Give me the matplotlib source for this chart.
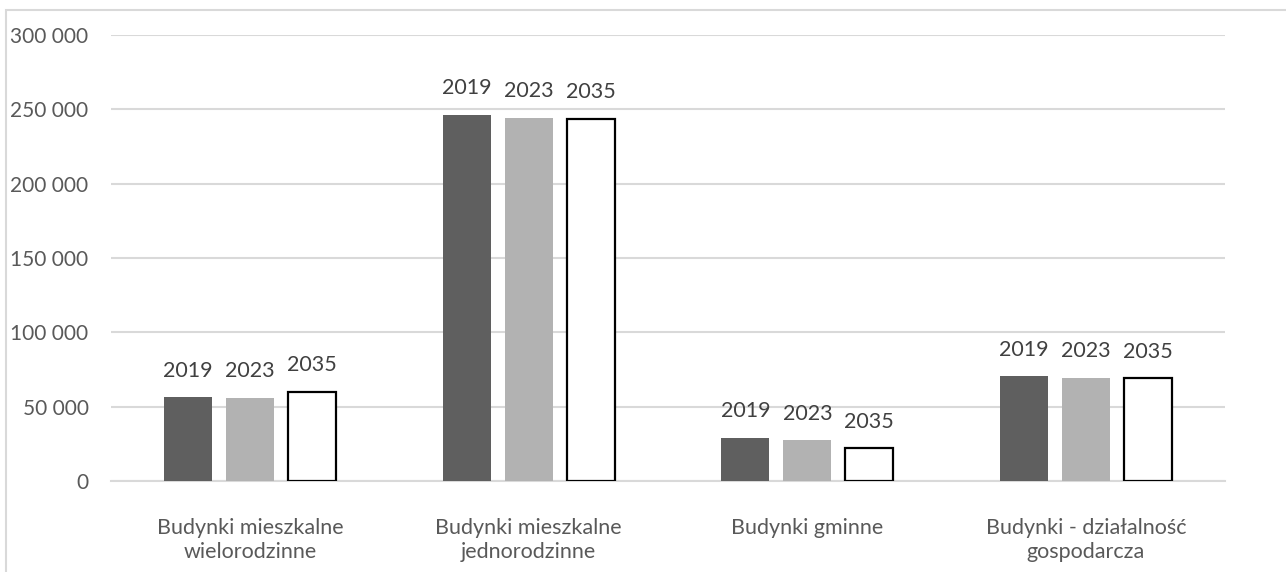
import numpy as np
import matplotlib.pyplot as plt
from matplotlib.patches import Rectangle

# Data
categories = ['Budynki mieszkalne\nwielorodzinne', 'Budynki mieszkalne\njednorodzinne',
              'Budynki gminne', 'Budynki - działalność\ngospodarcza']
years = ['2019', '2023', '2035']
values_2019 = [56500, 246300, 29100, 70500]
values_2023 = [56000, 244300, 27600, 69600]
values_2035 = [60000, 243600, 22200, 69100]
yticks = [0, 50000, 100000, 150000, 200000, 250000, 300000]

plt.rcParams['font.family'] = ['Lato', 'DejaVu Sans']

fig = plt.figure(figsize=(12.86, 5.72), dpi=100)
ax = fig.add_axes([0.0861, 0.1591, 0.8667, 0.7797])

# outer chart frame (runs off right and bottom edge)
fig.patches.append(Rectangle((6 / 1286, -0.1), 1.2, 1 - 10 / 572 + 0.1,
                             transform=fig.transFigure, fill=False,
                             edgecolor='#d9d9d9', lw=1.5, zorder=0))

x = np.arange(len(categories))
width = 0.173
step = 0.2225
series = [values_2019, values_2023, values_2035]
styles = [dict(color='#5f5f5f'), dict(color='#b2b2b2'),
          dict(facecolor='white', edgecolor='black', linewidth=1.6)]

for i, (vals, st, yr) in enumerate(zip(series, styles, years)):
    pos = x + (i - 1) * step
    ax.bar(pos, vals, width, zorder=3, **st)
    for p, v in zip(pos, vals):
        ax.annotate(yr, (p, v), xytext=(0, 19), textcoords='offset points',
                    ha='center', va='center', fontsize=15.5, color='#404040')

ax.set_xlim(-0.5, len(categories) - 0.5)
ax.set_ylim(0, 300000)
ax.set_yticks(yticks)
ax.set_yticklabels([f'{v:,}'.replace(',', ' ') for v in yticks])
ax.set_xticks(x)
ax.set_xticklabels(categories, linespacing=1.2)
ax.tick_params(axis='y', length=0, pad=16, labelsize=15, labelcolor='#595959')
ax.tick_params(axis='x', length=0, pad=27, labelsize=15.5, labelcolor='#595959')
ax.grid(axis='y', color='#d9d9d9', lw=1.5, zorder=0)
for s in ['top', 'right', 'left']:
    ax.spines[s].set_visible(False)
ax.spines['bottom'].set_color('#d9d9d9')
ax.spines['bottom'].set_linewidth(1.5)

fig.savefig('out.png', dpi=100)
